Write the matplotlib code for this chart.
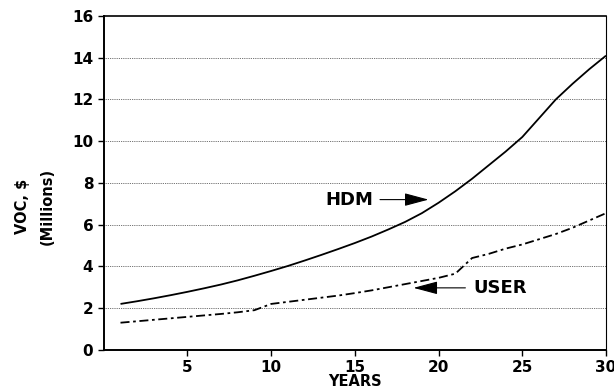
import matplotlib
matplotlib.use("Agg")
import matplotlib.pyplot as plt

plt.rcParams['font.family'] = ['DejaVu Sans']
plt.rcParams['font.weight'] = 'bold'

years = list(range(1, 31))
hdm = [2.2, 2.33, 2.47, 2.62, 2.78, 2.95, 3.13, 3.33, 3.55, 3.78,
       4.02, 4.28, 4.55, 4.83, 5.12, 5.43, 5.77, 6.13, 6.55, 7.05,
       7.6, 8.2, 8.85, 9.5, 10.2, 11.1, 12.0, 12.75, 13.45, 14.1]
user = [1.3, 1.37, 1.44, 1.51, 1.58, 1.65, 1.72, 1.8, 1.9, 2.2,
        2.3, 2.4, 2.5, 2.6, 2.72, 2.85, 3.0, 3.15, 3.3, 3.45,
        3.65, 4.4, 4.6, 4.85, 5.05, 5.3, 5.55, 5.85, 6.2, 6.55]
xticks = [5, 10, 15, 20, 25, 30]
yticks = [0, 2, 4, 6, 8, 10, 12, 14, 16]

fig = plt.figure(figsize=(6.14, 3.9), dpi=100)
ax = fig.add_axes([0.169, 0.103, 0.818, 0.856])

ax.plot(years, hdm, color='black', lw=1.3, solid_capstyle='butt')
ax.plot(years, user, color='black', lw=1.3, dashes=[5, 2, 1.5, 2])

ax.set_xlim(0, 30)
ax.set_ylim(0, 16)
ax.set_xticks(xticks)
ax.set_yticks(yticks)
for y in yticks[1:-1]:
    ax.axhline(y, color='black', lw=0.6, ls=(0, (1, 1.2)), alpha=0.75, zorder=0)

for s in ['left', 'bottom']:
    ax.spines[s].set_linewidth(1.4)
ax.spines['top'].set_linewidth(1.2)
ax.spines['right'].set_linewidth(0.8)

ax.tick_params(axis='both', direction='out', length=4, width=1.0, labelsize=11)
for lab in ax.get_xticklabels() + ax.get_yticklabels():
    lab.set_fontweight('bold')

ax.set_xlabel('YEARS', fontsize=10.5, fontweight='bold', labelpad=-1)
fig.text(0.036, 0.47, 'VOC, $', rotation=90, ha='center', va='center',
         fontsize=10.5, fontweight='bold')
fig.text(0.077, 0.47, '(Millions)', rotation=90, ha='center', va='center',
         fontsize=10.5, fontweight='bold')

astyle = '-|>,head_length=1.5,head_width=0.4'
ax.annotate('', xy=(19.4, 7.2), xytext=(16.5, 7.2),
            arrowprops=dict(arrowstyle=astyle, color='black', lw=0.8,
                            shrinkA=0, shrinkB=0))
ax.text(16.1, 7.2, 'HDM', ha='right', va='center', fontsize=13, fontweight='bold')

ax.annotate('', xy=(18.5, 2.97), xytext=(21.6, 2.97),
            arrowprops=dict(arrowstyle=astyle, color='black', lw=0.8,
                            shrinkA=0, shrinkB=0))
ax.text(22.1, 2.97, 'USER', ha='left', va='center', fontsize=13, fontweight='bold')

fig.savefig('out.png', dpi=100)
